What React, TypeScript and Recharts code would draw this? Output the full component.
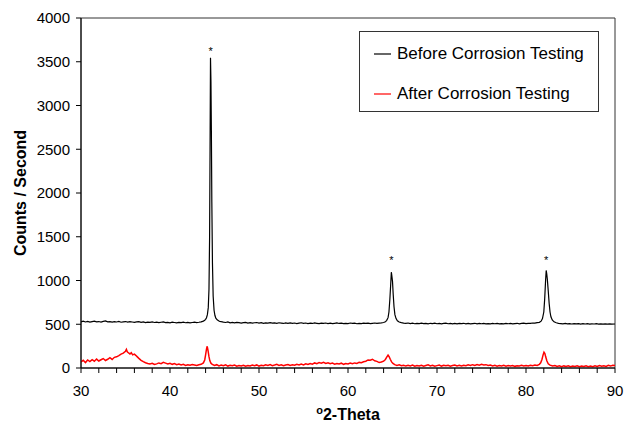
import { LineChart, Line, XAxis, YAxis, ReferenceArea, ReferenceDot } from 'recharts';

// 2-theta (deg) / counts per second
const beforeScan: [number, number][] = [
  [30, 528], [30.25, 535], [30.5, 526], [30.75, 532], [31, 524], [31.25, 530], [31.5, 536], [31.75, 527],
  [32, 531], [32.25, 525], [32.5, 533], [32.75, 538], [33, 527], [33.25, 530], [33.5, 524], [33.75, 529],
  [34, 526], [34.25, 532], [34.5, 523], [34.75, 528], [35, 531], [35.25, 524], [35.5, 529], [35.75, 526],
  [36, 521], [36.25, 527], [36.5, 530], [36.75, 522], [37, 526], [37.25, 519], [37.5, 525], [37.75, 521],
  [38, 527], [38.25, 520], [38.5, 524], [38.75, 518], [39, 523], [39.25, 526], [39.5, 519], [39.75, 522],
  [40, 517], [40.25, 524], [40.5, 520], [40.75, 516], [41, 522], [41.25, 518], [41.5, 523], [41.75, 517],
  [42, 521], [42.25, 515], [42.5, 520], [42.75, 524], [43, 519], [43.25, 523], [43.5, 528], [43.75, 536],
  [43.9, 545], [44.0, 556], [44.1, 575], [44.2, 610], [44.3, 690], [44.38, 900], [44.45, 1500], [44.5, 2500],
  [44.55, 3546], [44.6, 3280], [44.65, 2700], [44.7, 1900], [44.77, 1200], [44.85, 820], [44.95, 660],
  [45.05, 600], [45.15, 570], [45.3, 550], [45.5, 538], [45.6, 533],
  [45.75, 529], [46, 524], [46.25, 520], [46.5, 526], [46.75, 517], [47, 522], [47.25, 515], [47.5, 521],
  [47.75, 518], [48, 513], [48.25, 519], [48.5, 522], [48.75, 514], [49, 518], [49.25, 512], [49.5, 517],
  [49.75, 520], [50, 514], [50.25, 518], [50.5, 511], [50.75, 516], [51, 513], [51.25, 519], [51.5, 512],
  [51.75, 515], [52, 510], [52.25, 517], [52.5, 513], [52.75, 509], [53, 515], [53.25, 511], [53.5, 516],
  [53.75, 510], [54, 514], [54.25, 508], [54.5, 513], [54.75, 517], [55, 510], [55.25, 514], [55.5, 508],
  [55.75, 512], [56, 509], [56.25, 515], [56.5, 511], [56.75, 507], [57, 513], [57.25, 509], [57.5, 514],
  [57.75, 508], [58, 512], [58.25, 507], [58.5, 511], [58.75, 515], [59, 509], [59.25, 513], [59.5, 507],
  [59.75, 511], [60, 508], [60.25, 514], [60.5, 509], [60.75, 512], [61, 506], [61.25, 511], [61.5, 508],
  [61.75, 513], [62, 509], [62.25, 512], [62.5, 507], [62.75, 511], [63, 514], [63.25, 509], [63.5, 513],
  [63.75, 516], [64.0, 520], [64.2, 528], [64.35, 545], [64.5, 575], [64.6, 640], [64.7, 780], [64.8, 960],
  [64.87, 1095], [64.93, 1050], [65.0, 990], [65.08, 840], [65.17, 700], [65.27, 610], [65.4, 565],
  [65.55, 540], [65.75, 525], [66, 518],
  [66.25, 512], [66.5, 509], [66.75, 514], [67, 508], [67.25, 512], [67.5, 506], [67.75, 511], [68, 508],
  [68.25, 513], [68.5, 507], [68.75, 510], [69, 505], [69.25, 511], [69.5, 507], [69.75, 512], [70, 506],
  [70.25, 510], [70.5, 505], [70.75, 509], [71, 512], [71.25, 506], [71.5, 510], [71.75, 505], [72, 509],
  [72.25, 504], [72.5, 510], [72.75, 507], [73, 511], [73.25, 505], [73.5, 509], [73.75, 504], [74, 508],
  [74.25, 511], [74.5, 505], [74.75, 509], [75, 506], [75.25, 510], [75.5, 504], [75.75, 508], [76, 505],
  [76.25, 510], [76.5, 506], [76.75, 509], [77, 504], [77.25, 508], [77.5, 505], [77.75, 510], [78, 506],
  [78.25, 509], [78.5, 504], [78.75, 508], [79, 511], [79.25, 505], [79.5, 509], [79.75, 512], [80, 507],
  [80.25, 511], [80.5, 509], [80.75, 514], [81, 512], [81.25, 518],
  [81.5, 522], [81.7, 535], [81.85, 565], [82.0, 640], [82.1, 790], [82.2, 1000], [82.27, 1115], [82.33, 1075],
  [82.4, 1010], [82.5, 880], [82.6, 740], [82.7, 640], [82.8, 585], [82.95, 550], [83.15, 528], [83.4, 517],
  [83.65, 511], [83.9, 508], [84.15, 505], [84.4, 509], [84.65, 504], [84.9, 507], [85.15, 503], [85.4, 508],
  [85.65, 504], [85.9, 507], [86.15, 502], [86.4, 506], [86.65, 503], [86.9, 507], [87.15, 502], [87.4, 505],
  [87.65, 503], [87.9, 506], [88.15, 502], [88.4, 505], [88.65, 501], [88.9, 504], [89.15, 502], [89.4, 505],
  [89.65, 501], [90, 503],
];

const afterScan: [number, number][] = [
  [30, 70], [30.25, 88], [30.5, 62], [30.75, 92], [31, 74], [31.25, 96], [31.5, 78], [31.75, 102],
  [32, 80], [32.25, 94], [32.5, 108], [32.75, 86], [33, 100], [33.25, 118], [33.5, 98], [33.75, 122],
  [34, 128], [34.25, 142], [34.5, 158], [34.75, 170], [35, 192], [35.1, 212], [35.2, 185], [35.35, 172],
  [35.5, 160], [35.65, 175], [35.8, 150], [36, 158], [36.15, 145], [36.3, 130], [36.5, 110], [36.75, 88],
  [37, 72], [37.25, 60], [37.5, 52], [37.75, 46], [38, 54], [38.25, 40], [38.5, 47], [38.75, 58],
  [39, 50], [39.25, 64], [39.5, 56], [39.75, 46], [40, 54], [40.25, 42], [40.5, 50], [40.75, 38],
  [41, 46], [41.25, 34], [41.5, 42], [41.75, 30], [42, 38], [42.25, 31], [42.5, 40], [42.75, 34],
  [43, 28], [43.25, 37], [43.5, 42], [43.75, 58], [43.9, 92], [44.0, 150], [44.1, 215], [44.18, 248],
  [44.27, 200], [44.37, 135], [44.47, 85], [44.6, 55], [44.75, 42], [45, 30], [45.25, 38], [45.5, 24],
  [45.75, 33], [46, 26], [46.25, 36], [46.5, 22], [46.75, 30], [47, 25], [47.25, 34], [47.5, 21],
  [47.75, 29], [48, 24], [48.25, 32], [48.5, 20], [48.75, 28], [49, 23], [49.25, 33], [49.5, 26],
  [49.75, 35], [50, 22], [50.25, 30], [50.5, 25], [50.75, 36], [51, 28], [51.25, 38], [51.5, 27],
  [51.75, 34], [52, 42], [52.25, 30], [52.5, 37], [52.75, 26], [53, 35], [53.25, 40], [53.5, 29],
  [53.75, 36], [54, 31], [54.25, 42], [54.5, 34], [54.75, 45], [55, 36], [55.25, 48], [55.5, 40],
  [55.75, 52], [56, 44], [56.25, 58], [56.5, 50], [56.75, 62], [57, 54], [57.25, 66], [57.5, 52],
  [57.75, 60], [58, 48], [58.25, 56], [58.5, 44], [58.75, 52], [59, 46], [59.25, 55], [59.5, 42],
  [59.75, 50], [60, 45], [60.25, 56], [60.5, 48], [60.75, 58], [61, 52], [61.25, 64], [61.5, 60],
  [61.75, 72], [62, 78], [62.25, 92], [62.5, 88], [62.75, 100], [63, 82], [63.25, 76], [63.5, 62],
  [63.75, 68], [64, 78], [64.2, 98], [64.35, 125], [64.5, 148], [64.62, 130], [64.75, 100], [64.9, 70],
  [65.05, 52], [65.25, 38], [65.5, 30], [65.75, 36], [66, 25], [66.25, 32], [66.5, 22], [66.75, 30],
  [67, 24], [67.25, 33], [67.5, 20], [67.75, 28], [68, 23], [68.25, 31], [68.5, 21], [68.75, 29],
  [69, 36], [69.25, 24], [69.5, 32], [69.75, 20], [70, 27], [70.25, 34], [70.5, 22], [70.75, 30],
  [71, 25], [71.25, 32], [71.5, 21], [71.75, 28], [72, 34], [72.25, 24], [72.5, 30], [72.75, 22],
  [73, 31], [73.25, 26], [73.5, 36], [73.75, 28], [74, 38], [74.25, 30], [74.5, 40], [74.75, 32],
  [75, 42], [75.25, 34], [75.5, 38], [75.75, 28], [76, 33], [76.25, 24], [76.5, 30], [76.75, 21],
  [77, 28], [77.25, 23], [77.5, 30], [77.75, 20], [78, 27], [78.25, 22], [78.5, 29], [78.75, 19],
  [79, 26], [79.25, 22], [79.5, 30], [79.75, 24], [80, 28], [80.25, 22], [80.5, 31], [80.75, 26],
  [81, 33], [81.25, 30], [81.5, 42], [81.65, 60], [81.8, 100], [81.92, 150], [82.02, 180], [82.12, 165],
  [82.22, 125], [82.35, 80], [82.5, 48], [82.7, 32], [83, 22], [83.25, 28], [83.5, 18], [83.75, 25],
  [84, 16], [84.25, 24], [84.5, 18], [84.75, 26], [85, 15], [85.25, 22], [85.5, 17], [85.75, 25],
  [86, 14], [86.25, 22], [86.5, 18], [86.75, 26], [87, 16], [87.25, 23], [87.5, 15], [87.75, 24],
  [88, 17], [88.25, 28], [88.5, 20], [88.75, 26], [89, 18], [89.25, 30], [89.5, 22], [89.75, 32],
  [90, 28],
];

// peaks marked with an asterisk: [2-theta, label height]
const markedPeaks: [number, number][] = [[44.57, 3640], [64.88, 1250], [82.27, 1250]];

const xTicks = [30, 32, 34, 36, 38, 40, 42, 44, 46, 48, 50, 52, 54, 56, 58, 60, 62, 64, 66, 68, 70, 72, 74, 76, 78, 80, 82, 84, 86, 88, 90];
const xLabelTicks = [30, 40, 50, 60, 70, 80, 90];
const yTicks = [0, 500, 1000, 1500, 2000, 2500, 3000, 3500, 4000];

const seriesNames = ['Before Corrosion Testing', 'After Corrosion Testing'];
const seriesColors = ['#000000', '#ff0000'];

const toRows = (scan: [number, number][]) => scan.map(([theta, counts]) => ({ theta, counts }));
const beforeData = toRows(beforeScan);
const afterData = toRows(afterScan);

const FONT = '"Liberation Sans", Arial, sans-serif';

function XTick(props: any) {
  const { x, y, payload } = props;
  if (!xLabelTicks.includes(payload.value)) return null;
  return (
    <text x={x} y={y} dy="0.71em" textAnchor="middle" fontSize={15} fill="#000" fontFamily={FONT}>
      {payload.value}
    </text>
  );
}

function XTitle(props: any) {
  const { viewBox } = props;
  const cx = viewBox.x + viewBox.width / 2;
  return (
    <text x={cx} y={viewBox.y + 52} textAnchor="middle" fontSize={16} fontWeight="bold" fill="#000" fontFamily={FONT}>
      <tspan fontSize={11} dy={-6}>o</tspan>
      <tspan dy={6}>2-Theta</tspan>
    </text>
  );
}

function YTitle(props: any) {
  const { viewBox } = props;
  const cx = 20;
  const cy = viewBox.y + viewBox.height / 2;
  return (
    <text x={cx} y={cy} dy="0.35em" transform={`rotate(-90, ${cx}, ${cy})`} textAnchor="middle" fontSize={16} fontWeight="bold" fill="#000" fontFamily={FONT}>
      Counts / Second
    </text>
  );
}

function LegendBox() {
  const rowTops = [22, 62];
  return (
    <div style={{ position: 'absolute', left: 359, top: 31, width: 240, height: 81, border: '1px solid #333', boxSizing: 'border-box', background: '#fff', fontFamily: FONT }}>
      {seriesNames.map((name, i) => (
        <div key={name} style={{ position: 'absolute', left: 0, top: rowTops[i] - 11, height: 22, display: 'flex', alignItems: 'center' }}>
          <svg width={32} height={22} style={{ display: 'block' }}>
            <line x1={14} x2={31} y1={11} y2={11} stroke={seriesColors[i]} strokeWidth={1.2} />
          </svg>
          <span style={{ marginLeft: 5, fontSize: 17, color: '#000', whiteSpace: 'nowrap' }}>{name}</span>
        </div>
      ))}
    </div>
  );
}

export default function App() {
  return (
    <div style={{ position: 'absolute', left: 0, top: 0, width: 624, height: 423, background: '#fff', fontFamily: FONT }}>
      <LineChart width={624} height={423} margin={{ top: 18, right: 9, bottom: 0, left: 0 }}>
        <XAxis
          dataKey="theta"
          type="number"
          domain={[30, 90]}
          ticks={xTicks}
          interval={0}
          allowDataOverflow
          height={55}
          tickSize={5}
          tickMargin={12}
          tick={<XTick />}
          axisLine={{ stroke: '#000' }}
          tickLine={{ stroke: '#000' }}
          label={<XTitle />}
        />
        <YAxis
          type="number"
          domain={[0, 4000]}
          ticks={yTicks}
          interval={0}
          width={81}
          tickSize={5}
          tickMargin={6}
          tick={{ fill: '#000', fontSize: 15, fontFamily: FONT }}
          axisLine={{ stroke: '#000' }}
          tickLine={{ stroke: '#000' }}
          label={<YTitle />}
        />
        <ReferenceArea x1={30} x2={90} y1={0} y2={4000} fill="none" stroke="#333" strokeWidth={1} />
        <Line
          data={afterData}
          dataKey="counts"
          name={seriesNames[1]}
          stroke={seriesColors[1]}
          strokeWidth={1.5}
          dot={false}
          isAnimationActive={false}
        />
        <Line
          data={beforeData}
          dataKey="counts"
          name={seriesNames[0]}
          stroke={seriesColors[0]}
          strokeWidth={1.2}
          dot={false}
          isAnimationActive={false}
        />
        {markedPeaks.map(([theta, h]) => (
          <ReferenceDot
            key={theta}
            x={theta}
            y={h}
            r={0}
            shape={(p: any) => (
              <text x={p.cx} y={p.cy} dy="0.5em" textAnchor="middle" fontSize={11} fill="#000" fontFamily={FONT}>
                *
              </text>
            )}
          />
        ))}
      </LineChart>
      <LegendBox />
    </div>
  );
}
